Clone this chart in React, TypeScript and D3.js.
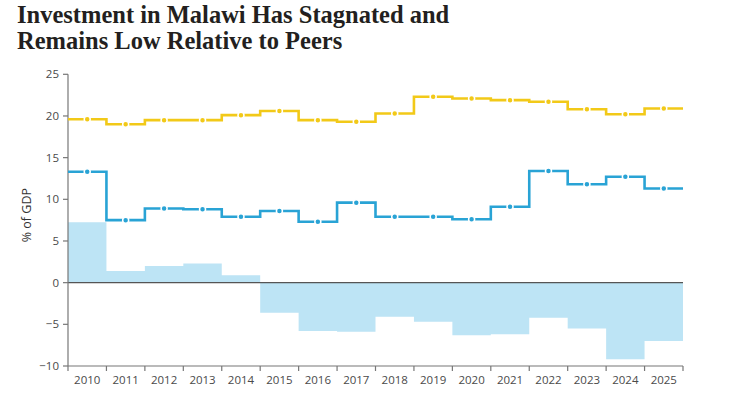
import React from "react";
import * as d3 from "d3";

const years = ["2010","2011","2012","2013","2014","2015","2016","2017","2018","2019","2020","2021","2022","2023","2024","2025"];
const peers = [19.6,19.0,19.5,19.5,20.1,20.6,19.5,19.3,20.3,22.3,22.1,21.9,21.7,20.8,20.2,20.9];
const malawi = [13.3,7.5,8.9,8.8,7.9,8.6,7.3,9.6,7.9,7.9,7.6,9.1,13.4,11.8,12.7,11.3];
const gap = [7.25,1.4,2.0,2.3,0.9,-3.6,-5.8,-5.9,-4.1,-4.7,-6.3,-6.2,-4.2,-5.5,-9.2,-7.0];
const yTicks = [-10,-5,0,5,10,15,20,25];

const W = 730, H = 400;
const left = 68, right = 683, top = 74.3, bottom = 366;

export default function App() {
  const x = d3.scaleBand<string>().domain(years).range([left, right]).padding(0);
  const y = d3.scaleLinear().domain([-10, 25]).range([bottom, top]);
  const bw = x.bandwidth();

  const stepPts = (vals: number[]) => {
    const pts: [number, number][] = [];
    vals.forEach((v, i) => {
      const x0 = x(years[i])!;
      pts.push([x0, v]);
      pts.push([x0 + bw, v]);
    });
    return pts;
  };
  const line = d3.line<[number, number]>().x((d) => d[0]).y((d) => y(d[1]));
  const area = d3.area<[number, number]>().x((d) => d[0]).y0(y(0)).y1((d) => y(d[1]));

  const yellow = "#f2c918";
  const blue = "#29a3d5";

  return (
    <svg width={W} height={H} style={{ position: "absolute", left: 0, top: 0, background: "#fff" }}>
      <g fontFamily="'Liberation Serif', serif" fontWeight="bold" fill="#231f20" fontSize={24.5}>
        <text x={17} y={23}>Investment in Malawi Has Stagnated and</text>
        <text x={17} y={49}>Remains Low Relative to Peers</text>
      </g>
      <path d={area(stepPts(gap)) as string} fill="#bde4f5" />
      <line x1={left} x2={right} y1={y(0)} y2={y(0)} stroke="#555" strokeWidth={1.2} />
      <line x1={left} x2={left} y1={top} y2={bottom} stroke="#777" strokeWidth={1.2} />
      <line x1={left} x2={right} y1={bottom} y2={bottom} stroke="#777" strokeWidth={1.2} />
      <g fontFamily="'Open Sans', sans-serif" fontSize={11.5} fill="#4a4a4a">
        {yTicks.map((t) => (
          <g key={t}>
            <line x1={left - 5} x2={left} y1={y(t)} y2={y(t)} stroke="#777" strokeWidth={1.2} />
            <text x={left - 9} y={y(t)} dy="0.35em" textAnchor="end">{t < 0 ? "\u2212" + Math.abs(t) : t}</text>
          </g>
        ))}
        {years.map((yr) => (
          <g key={yr}>
            <line x1={x(yr)!} x2={x(yr)!} y1={bottom} y2={bottom + 5} stroke="#777" strokeWidth={1.2} />
            <text x={x(yr)! + bw / 2} y={bottom + 18} textAnchor="middle">{yr}</text>
          </g>
        ))}
        <line x1={right} x2={right} y1={bottom} y2={bottom + 5} stroke="#777" strokeWidth={1.2} />
        <text transform={`translate(30.5,${(top + bottom) / 2 - 5}) rotate(-90)`} textAnchor="middle" fill="#333" fontSize={12.5}>% of GDP</text>
      </g>
      <path d={line(stepPts(peers)) as string} fill="none" stroke={yellow} strokeWidth={2.6} />
      <path d={line(stepPts(malawi)) as string} fill="none" stroke={blue} strokeWidth={2.6} />
      {peers.map((v, i) => (
        <circle key={"p" + i} cx={x(years[i])! + bw / 2} cy={y(v)} r={3} fill={yellow} stroke="#fff" strokeWidth={1.5} />
      ))}
      {malawi.map((v, i) => (
        <circle key={"m" + i} cx={x(years[i])! + bw / 2} cy={y(v)} r={3} fill={blue} stroke="#fff" strokeWidth={1.5} />
      ))}
    </svg>
  );
}
